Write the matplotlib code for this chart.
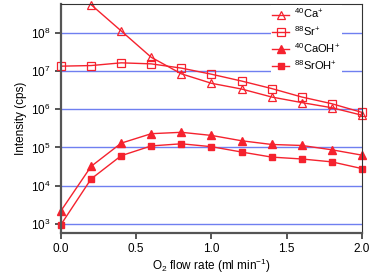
import matplotlib
matplotlib.use("Agg")
import matplotlib.pyplot as plt
import numpy as np

plt.rcParams["font.family"] = ["Liberation Sans", "DejaVu Sans"]
plt.rcParams["mathtext.fontset"] = "custom"
plt.rcParams["mathtext.rm"] = "Liberation Sans"
plt.rcParams["mathtext.it"] = "Liberation Sans"

flow = [0.0, 0.2, 0.4, 0.6, 0.8, 1.0, 1.2, 1.4, 1.6, 1.8, 2.0]
ca = [np.nan, 5.5e8, 1.13e8, 2.3e7, 8.5e6, 4.8e6, 3.4e6, 2.1e6, 1.5e6, 1.1e6, 7.0e5]
sr = [1.35e7, 1.4e7, 1.65e7, 1.55e7, 1.2e7, 8.3e6, 5.5e6, 3.5e6, 2.1e6, 1.4e6, 8.3e5]
caoh = [2.2e3, 3.2e4, 1.3e5, 2.3e5, 2.5e5, 2.07e5, 1.5e5, 1.2e5, 1.13e5, 8.7e4, 6.3e4]
sroh = [9.6e2, 1.5e4, 6.1e4, 1.1e5, 1.25e5, 1.05e5, 7.6e4, 5.6e4, 5.0e4, 4.2e4, 2.8e4]

labels = [r"$^{40}$Ca$^{+}$", r"$^{88}$Sr$^{+}$", r"$^{40}$CaOH$^{+}$", r"$^{88}$SrOH$^{+}$"]
red = "#f5222e"
gray = "#555555"

fig = plt.figure(figsize=(3.71, 2.74), dpi=100)
ax = fig.add_axes([0.1644, 0.1496, 0.8113, 0.836])

ax.plot(flow, ca, color=red, lw=1, marker="^", ms=5.5, mfc="none", mew=0.9, label=labels[0], clip_on=False)
ax.plot(flow, sr, color=red, lw=1, marker="s", ms=5.5, mfc="none", mew=0.9, label=labels[1], clip_on=False)
ax.plot(flow, caoh, color=red, lw=1, marker="^", ms=5.5, label=labels[2], clip_on=False)
ax.plot(flow, sroh, color=red, lw=1, marker="s", ms=5, label=labels[3], clip_on=False)

ax.set_yscale("log")
ax.set_xlim(0, 2.0)
ax.set_ylim(10 ** 2.76, 10 ** 8.76)
ax.set_xticks([0.0, 0.5, 1.0, 1.5, 2.0])
ax.set_xticklabels(["0.0", "0.5", "1.0", "1.5", "2.0"])
ax.set_yticks([1e3, 1e4, 1e5, 1e6, 1e7, 1e8])
ax.yaxis.set_minor_locator(matplotlib.ticker.NullLocator())
ax.tick_params(axis="both", direction="out", length=4.5, width=1.4, color=gray, labelsize=8.5, pad=3)

ax.grid(axis="y", color="#6f7ff0", lw=1)
ax.set_axisbelow(True)

for side in ["left", "bottom"]:
    ax.spines[side].set_linewidth(1.6)
    ax.spines[side].set_color(gray)
for side in ["top", "right"]:
    ax.spines[side].set_linewidth(0.8)
    ax.spines[side].set_color("#333333")

ax.set_ylabel("Intensity (cps)", fontsize=8.5, labelpad=3)
ax.set_xlabel(r"O$_2$ flow rate (ml min$^{-1}$)", fontsize=8.5, labelpad=1)

leg = ax.legend(loc="upper right", frameon=True, fontsize=8, handlelength=1.5,
                borderpad=0.15, labelspacing=0.3, handletextpad=0.45, borderaxespad=0,
                bbox_to_anchor=(342 / 371, 269 / 274), bbox_transform=fig.transFigure)
leg.get_frame().set_edgecolor("none")
leg.get_frame().set_facecolor("white")
leg.get_frame().set_alpha(1)
leg.get_frame().set_boxstyle("square", pad=0)

fig.savefig("out.png", dpi=100)
